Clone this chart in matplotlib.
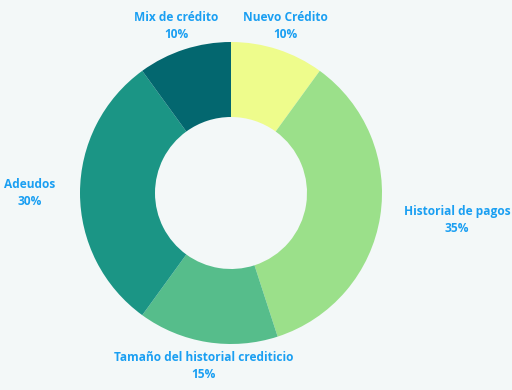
import matplotlib.pyplot as plt

labels = ['Nuevo Crédito', 'Historial de pagos', 'Tamaño del historial crediticio', 'Adeudos', 'Mix de crédito']
values = [10, 35, 15, 30, 10]
colors = ['#eefc8c', '#9be08a', '#56bd8b', '#1b9585', '#03676f']

# label anchor points (pixels, y from bottom)
label_pos = [(285, 364), (457, 170), (204, 24), (30, 197), (176, 364)]

bg = '#f3f8f8'
fig = plt.figure(figsize=(5.12, 3.9), dpi=100, facecolor=bg)
ax = fig.add_axes([0, 0, 1, 1])
ax.set_facecolor(bg)

ax.pie(values, colors=colors, startangle=90, counterclock=False,
       center=(231, 197), radius=151, wedgeprops=dict(width=75, linewidth=0))

for lab, v, (x, y) in zip(labels, values, label_pos):
    ax.text(x, y, f'{lab}\n{v}%', ha='center', va='center', color='#1a9ff2',
            fontsize=8.6, fontweight='bold', family='Open Sans', linespacing=1.45)

ax.set_xlim(0, 512)
ax.set_ylim(0, 390)
ax.set_aspect('equal')
ax.axis('off')

fig.savefig('out.png', dpi=100, facecolor=bg)
